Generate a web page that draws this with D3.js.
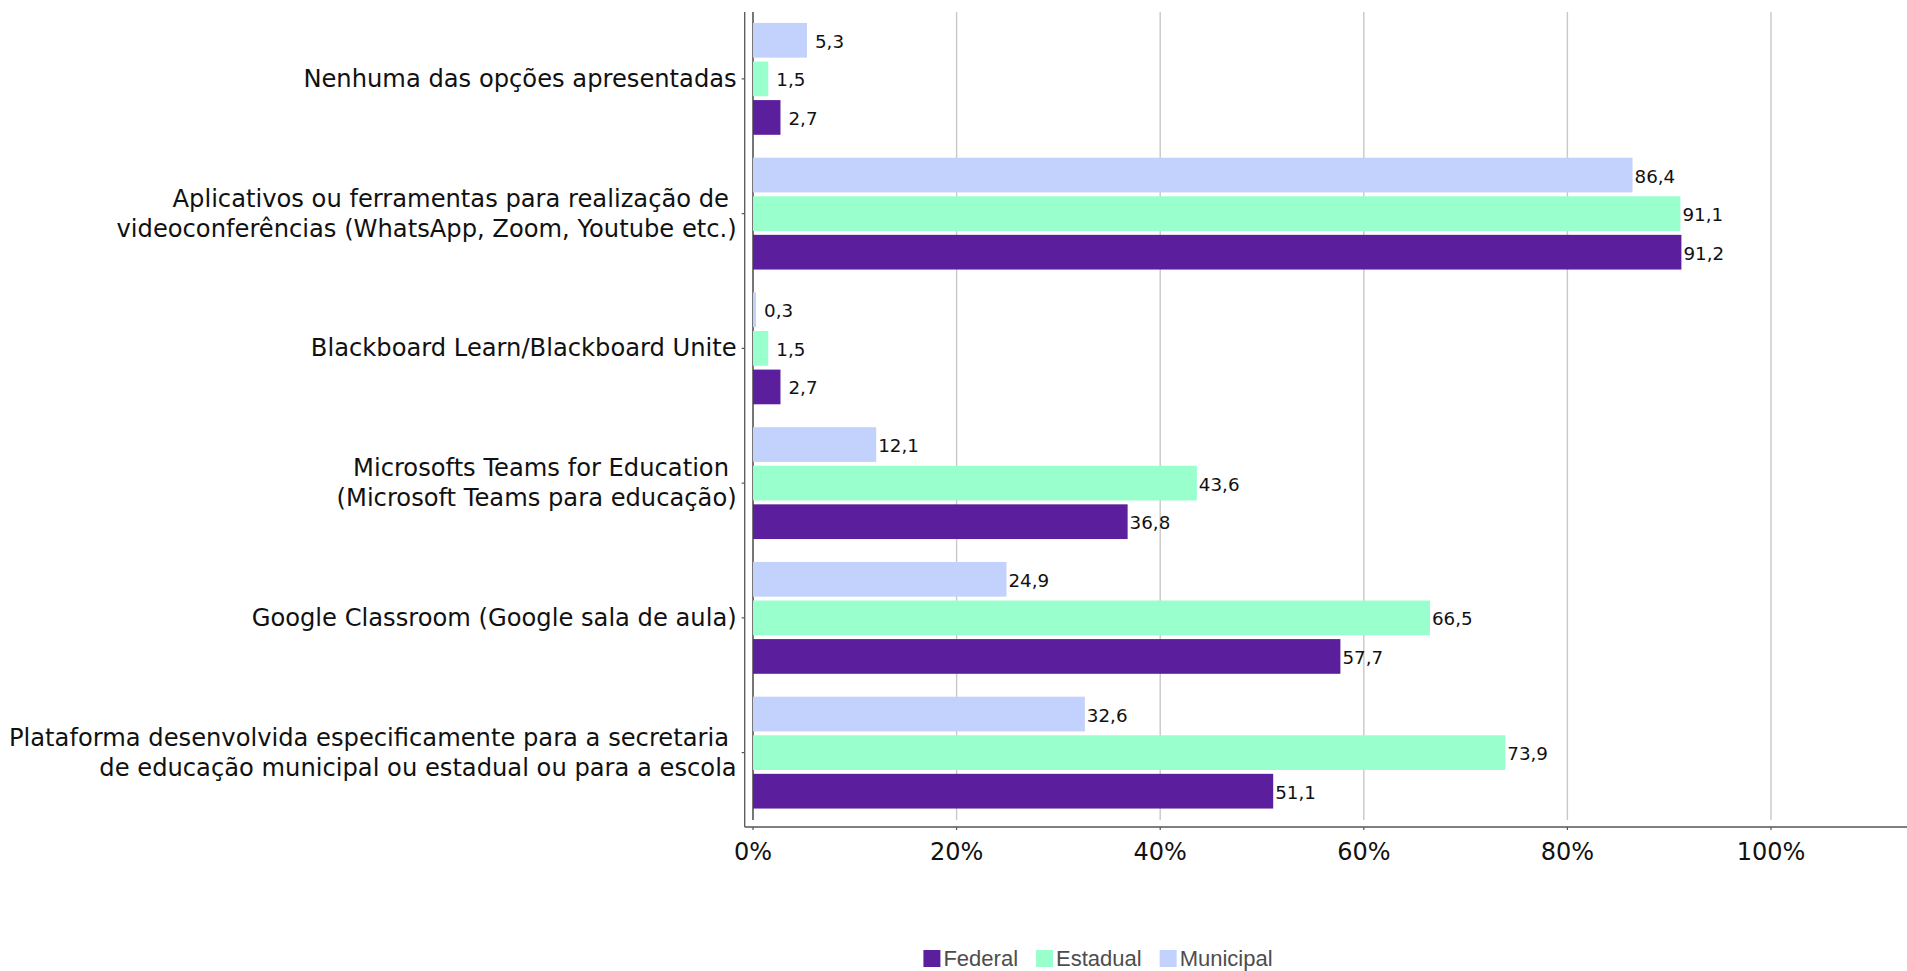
<!DOCTYPE html>
<html>
<head>
<meta charset="utf-8">
<script src="https://cdn.jsdelivr.net/npm/d3@7"></script>
<style>
  html, body { margin: 0; padding: 0; background: #ffffff; }
  svg { display: block; }
  text { white-space: pre; }
</style>
</head>
<body>
<svg id="chart" width="1907" height="971"></svg>
<script>
// ---- data ----
const categories = [
  "Nenhuma das opções apresentadas",
  "Aplicativos ou ferramentas para realização de \nvideoconferências (WhatsApp, Zoom, Youtube etc.)",
  "Blackboard Learn/Blackboard Unite",
  "Microsofts Teams for Education \n(Microsoft Teams para educação)",
  "Google Classroom (Google sala de aula)",
  "Plataforma desenvolvida especificamente para a secretaria \nde educação municipal ou estadual ou para a escola"
];
const seriesNames = ["Federal", "Estadual", "Municipal"];
const federal   = [2.7, 91.2, 2.7, 36.8, 57.7, 51.1];
const estadual  = [1.5, 91.1, 1.5, 43.6, 66.5, 73.9];
const municipal = [5.3, 86.4, 0.3, 12.1, 24.9, 32.6];
const xTicks = [0, 20, 40, 60, 80, 100];
const colors = { Federal: "#5b1f9e", Estadual: "#99ffcc", Municipal: "#c2d2fc" };

const seriesValues = { Federal: federal, Estadual: estadual, Municipal: municipal };
const rows = [];
categories.forEach((c, i) => {
  seriesNames.forEach(s => rows.push({ cat: c, series: s, value: seriesValues[s][i] }));
});

// ---- layout ----
const svg = d3.select("#chart");
const W = 1907;
const axisX = 744.7;
const plotTop = 12, gridBottom = 820, axisY = 827;

const x = d3.scaleLinear().domain([0, 100]).range([753, 1771]);
const y = d3.scaleBand().domain(categories).range([11.5, 820])
  .paddingInner(0.17).paddingOuter(0.085);
const ySub = d3.scaleBand().domain(["Municipal", "Estadual", "Federal"])
  .range([0, y.bandwidth()]).paddingInner(0.1);

// gridlines
svg.append("g").selectAll("line").data(xTicks.filter(t => t > 0)).join("line")
  .attr("x1", d => x(d)).attr("x2", d => x(d))
  .attr("y1", plotTop).attr("y2", gridBottom)
  .attr("stroke", "#c8c8c8").attr("stroke-width", 1.4);

// zero line
svg.append("line")
  .attr("x1", x(0)).attr("x2", x(0)).attr("y1", plotTop).attr("y2", gridBottom)
  .attr("stroke", "#4a4a4a").attr("stroke-width", 1.5);

// bars
svg.append("g").selectAll("rect").data(rows).join("rect")
  .attr("x", x(0))
  .attr("y", d => y(d.cat) + ySub(d.series))
  .attr("width", d => x(d.value) - x(0))
  .attr("height", ySub.bandwidth())
  .attr("fill", d => colors[d.series]);

// value labels
svg.append("g").selectAll("text").data(rows).join("text")
  .attr("x", d => x(d.value) + (d.value < 10 ? 8 : 2))
  .attr("y", d => y(d.cat) + ySub(d.series) + ySub.bandwidth() / 2 + 1)
  .attr("dominant-baseline", "central")
  .attr("font-family", "DejaVu Sans, Verdana, sans-serif")
  .attr("font-size", 18.3)
  .attr("fill", "#111")
  .text(d => d.value.toFixed(1).replace(".", ","));

// axis lines
svg.append("line").attr("x1", axisX).attr("x2", axisX).attr("y1", plotTop).attr("y2", axisY)
  .attr("stroke", "#555").attr("stroke-width", 1.3);
svg.append("line").attr("x1", axisX).attr("x2", W).attr("y1", axisY).attr("y2", axisY)
  .attr("stroke", "#555").attr("stroke-width", 1.3);

// x axis ticks & labels
const xg = svg.append("g");
xg.selectAll("line").data(xTicks).join("line")
  .attr("x1", d => x(d)).attr("x2", d => x(d))
  .attr("y1", axisY).attr("y2", axisY + 3)
  .attr("stroke", "#555").attr("stroke-width", 1.2);
xg.selectAll("text").data(xTicks).join("text")
  .attr("x", d => x(d)).attr("y", 860)
  .attr("text-anchor", "middle")
  .attr("font-family", "DejaVu Sans, Verdana, sans-serif")
  .attr("font-size", 24)
  .attr("fill", "#111")
  .text(d => d + "%");

// y axis ticks & labels
const yg = svg.append("g");
yg.selectAll("line").data(categories).join("line")
  .attr("x1", axisX - 3).attr("x2", axisX)
  .attr("y1", d => y(d) + y.bandwidth() / 2).attr("y2", d => y(d) + y.bandwidth() / 2)
  .attr("stroke", "#555").attr("stroke-width", 1.2);
const lineH = 30;
yg.selectAll("text").data(categories).join("text")
  .attr("text-anchor", "end")
  .attr("font-family", "DejaVu Sans, Verdana, sans-serif")
  .attr("font-size", 24.2)
  .attr("fill", "#111")
  .each(function(d) {
    const lines = d.split("\n");
    const cy = y(d) + y.bandwidth() / 2;
    const t = d3.select(this);
    lines.forEach((ln, i) => {
      t.append("tspan")
        .attr("x", axisX - 8)
        .attr("y", cy + (i - (lines.length - 1) / 2) * lineH)
        .attr("dominant-baseline", "central")
        .text(ln);
    });
  });

// legend
const legend = svg.append("g");
const keySize = 17, keyGap = 3, itemGap = 18, legendFont = 22;
let items = [];
let cursor = 0;
seriesNames.forEach(s => {
  const tmp = legend.append("text")
    .attr("font-family", "Liberation Sans, Arial, sans-serif")
    .attr("font-size", legendFont).text(s);
  const w = tmp.node().getComputedTextLength();
  tmp.remove();
  items.push({ s, off: cursor, w });
  cursor += keySize + keyGap + w + itemGap;
});
const totalW = cursor - itemGap;
const legendX = 1098 - totalW / 2;
items.forEach(it => {
  legend.append("rect")
    .attr("x", legendX + it.off).attr("y", 950)
    .attr("width", keySize).attr("height", keySize)
    .attr("fill", colors[it.s]);
  legend.append("text")
    .attr("x", legendX + it.off + keySize + keyGap).attr("y", 966)
    .attr("font-family", "Liberation Sans, Arial, sans-serif")
    .attr("font-size", legendFont).attr("fill", "#4d4d4d")
    .text(it.s);
});
</script>
</body>
</html>
